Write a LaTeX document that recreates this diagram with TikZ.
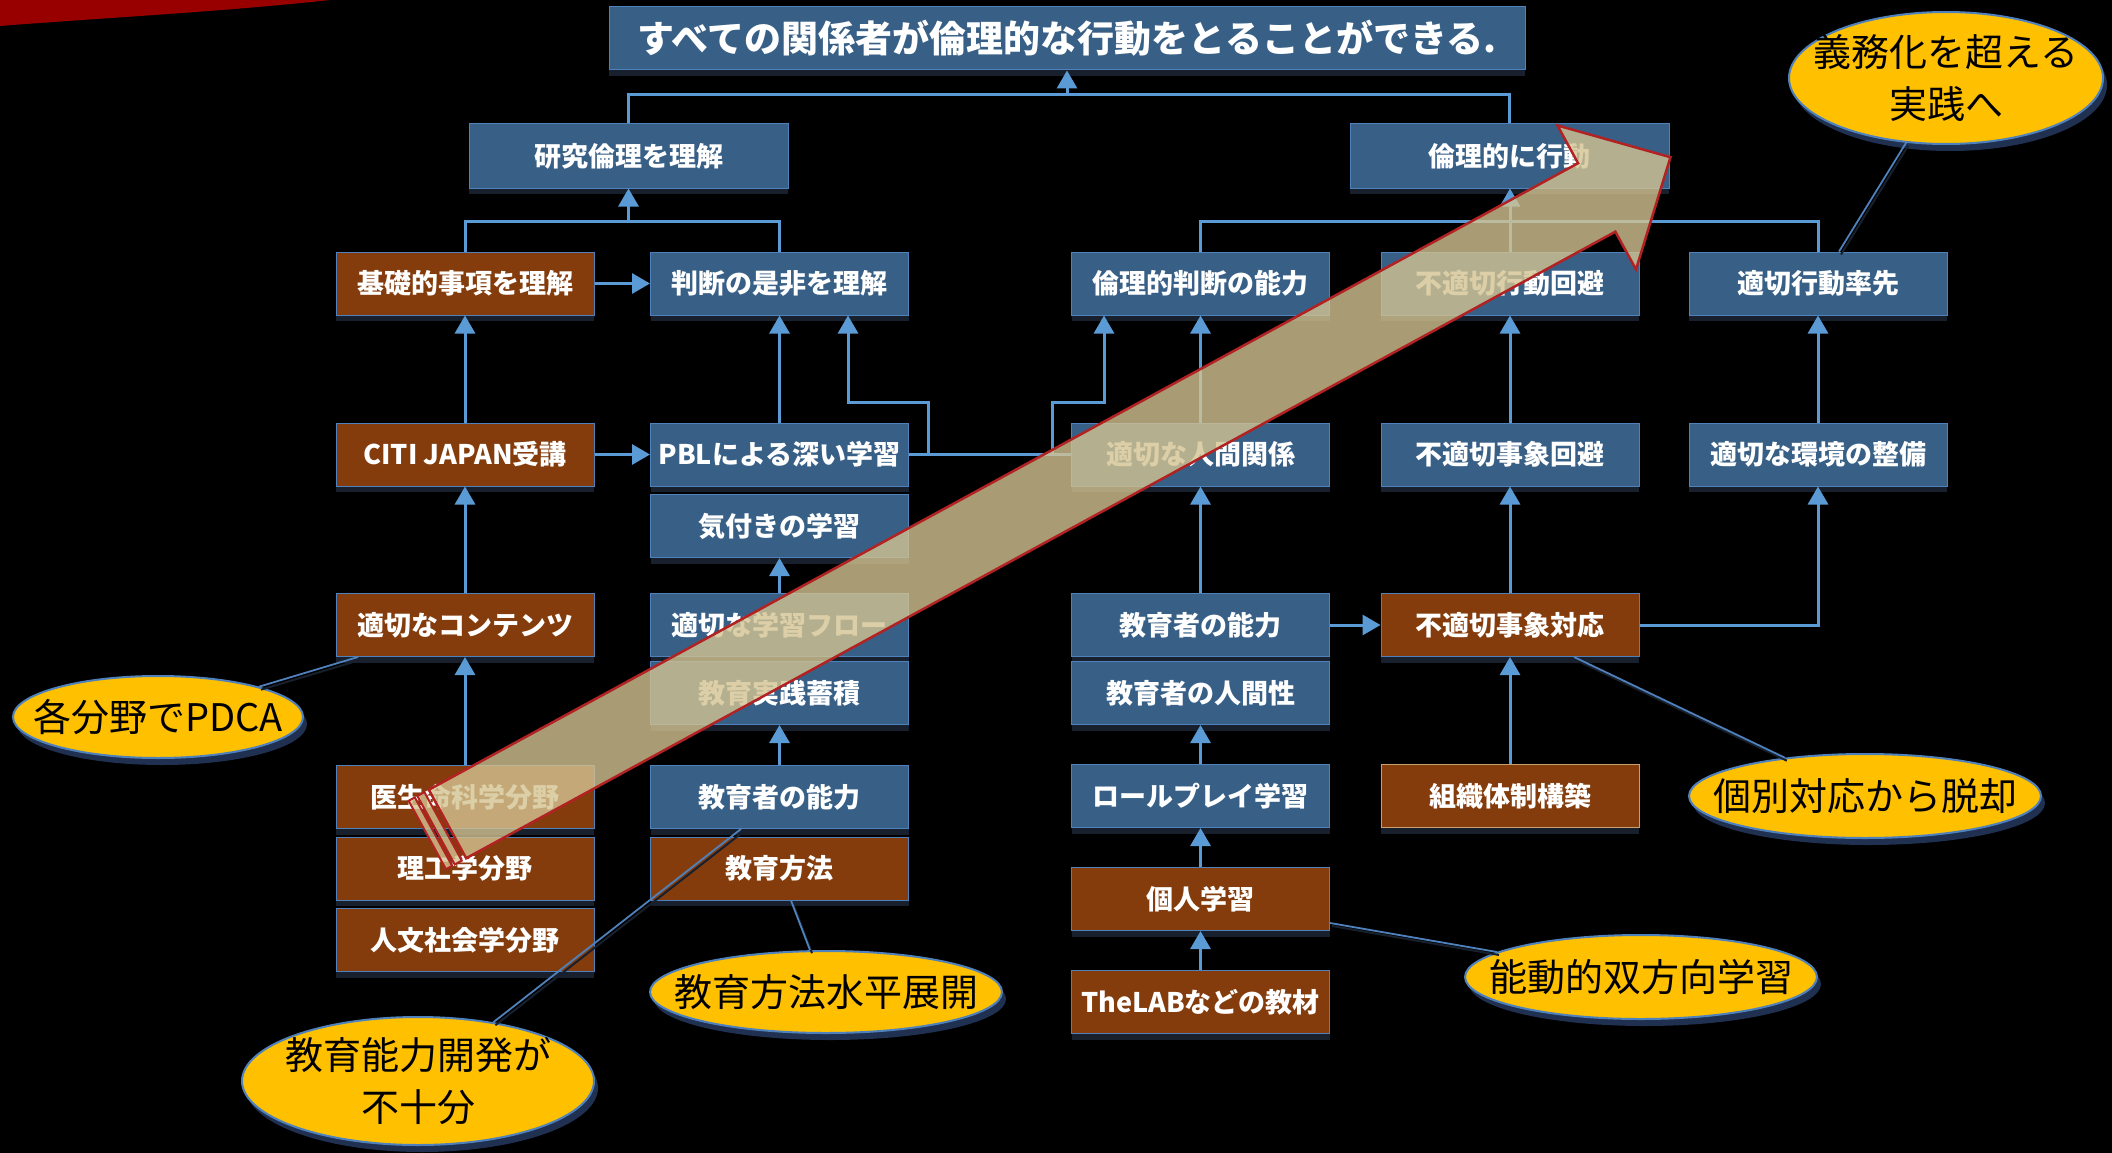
\documentclass[tikz,border=0pt]{standalone}
\usepackage{fontspec}
\newfontfamily\jp{Noto Sans CJK JP}
\usetikzlibrary{arrows.meta,shapes.geometric,shadows}
\definecolor{boxblue}{HTML}{386087}
\definecolor{boxbrown}{HTML}{843C0C}
\definecolor{lineblue}{HTML}{5B9BD5}
\definecolor{edgeblue}{HTML}{4F81BD}
\definecolor{callout}{HTML}{FFC000}
\definecolor{shadowc}{HTML}{17202C}
\definecolor{coshadow}{HTML}{1F3050}
\definecolor{tanedge}{RGB}{200,160,110}
\definecolor{arrfill}{RGB}{212,196,146}
\definecolor{arrline}{HTML}{B22222}
\definecolor{swoosh}{HTML}{980000}
\begin{document}
\begin{tikzpicture}[x=1pt,y=-1pt,
  bx/.style={rectangle, minimum width=258pt, minimum height=63pt, inner sep=0pt, text=white,
    font=\jp\bfseries\fontsize{27}{32}\selectfont, draw=edgeblue, line width=1pt,
    drop shadow={shadow xshift=0pt, shadow yshift=-6pt, fill=shadowc, opacity=1}},
  bb/.style={bx, fill=boxblue},
  br/.style={bx, fill=boxbrown},
  conn/.style={draw=lineblue, line width=3pt},
  arr/.style={conn, -{Triangle[width=20pt,length=18pt]}},
  co/.style={ellipse, fill=callout, draw=edgeblue, line width=2pt, inner sep=0pt,
    drop shadow={shadow xshift=4pt, shadow yshift=-7pt, fill=coshadow, opacity=1}},
  cot/.style={inner sep=0pt, text=black, font=\jp\fontsize{38}{52}\selectfont, align=center},
  cl/.style={draw=edgeblue, line width=1.8pt},
  cls/.style={draw=shadowc, line width=2pt},
  bigarr/.style={fill=arrfill, fill opacity=0.8, draw=arrline, line width=2.5pt, line join=miter}
]
\fill[black] (0,0) rectangle (2112,1153);
\useasboundingbox (0,0) rectangle (2112,1153);
\fill[swoosh] (0,0) -- (330,0) .. controls (220,12) and (100,18) .. (0,26) -- cycle;

% boxes
\node[bb, minimum width=916pt, minimum height=63pt, font=\jp\bfseries\fontsize{37}{44}\selectfont] (title) at (1067,38.5) {すべての関係者が倫理的な行動をとることができる.};
\node[bb, minimum width=319pt, minimum height=64pt] (kenri) at (628.5,156) {研究倫理を理解};
\node[bb, minimum width=319pt, minimum height=64pt] (rinkodo) at (1509.5,156) {倫理的に行動};
\node[br] (kiso) at (465,283.5) {基礎的事項を理解};
\node[bb] (handan) at (779.5,283.5) {判断の是非を理解};
\node[bb] (rinhan) at (1200.5,283.5) {倫理的判断の能力};
\node[bb] (futekikodo) at (1510,283.5) {不適切行動回避};
\node[bb] (tekikodo) at (1818,283.5) {適切行動率先};
\node[br] (citi) at (465,454.5) {CITI JAPAN受講};
\node[bb] (pbl) at (779.5,454.5) {PBLによる深い学習};
\node[bb] (ningen) at (1200.5,454.5) {適切な人間関係};
\node[bb] (futekijisho) at (1510,454.5) {不適切事象回避};
\node[bb] (kankyo) at (1818,454.5) {適切な環境の整備};
\node[bb] (kizuki) at (779.5,526) {気付きの学習};
\node[br] (contents) at (465,625) {適切なコンテンツ};
\node[bb] (flow) at (779.5,625) {適切な学習フロー};
\node[bb] (nouryoku1) at (1200.5,625) {教育者の能力};
\node[br] (taio) at (1510,625) {不適切事象対応};
\node[bb] (jissen) at (779.5,693) {教育実践蓄積};
\node[bb] (ningensei) at (1200.5,693) {教育者の人間性};
\node[br] (ise) at (465,797) {医生命科学分野};
\node[bb] (nouryoku2) at (779.5,797) {教育者の能力};
\node[bb] (role) at (1200.5,796) {ロールプレイ学習};
\node[br, draw=tanedge] (soshiki) at (1510,796) {組織体制構築};
\node[br] (riko) at (465,868.5) {理工学分野};
\node[br] (hoho) at (779.5,868.5) {教育方法};
\node[br] (jinbun) at (465,940) {人文社会学分野};
\node[br] (kojin) at (1200.5,899) {個人学習};
\node[br] (thelab) at (1200.5,1002) {TheLABなどの教材};

% connectors
\coordinate (j0) at (1067,95);
\draw[conn] (kenri.north) |- (j0) -| (rinkodo.north);
\draw[arr] (j0) -- (title.south);
\coordinate (j1) at (628.5,221);
\draw[conn] (kiso.north) |- (j1) -| (handan.north);
\draw[arr] (j1) -- (kenri.south);
\coordinate (j2) at (1510,221);
\draw[conn] (rinhan.north) |- (j2) -| (tekikodo.north);
\draw[arr] (futekikodo.north) -- (rinkodo.south -| futekikodo.north);
\draw[arr] (kiso.east) -- (handan.west);
\draw[arr] (citi.north) -- (kiso.south);
\draw[arr] (citi.east) -- (pbl.west);
\draw[arr] (pbl.north) -- (handan.south);
\coordinate (h1) at (848,402);
\coordinate (h2) at (928,402);
\draw[arr] (ningen.west) -| (h2) -- (h1) -- (h1 |- handan.south);
\coordinate (h3) at (1052,402);
\coordinate (h4) at (1104,402);
\draw[arr] (pbl.east) -| (h3) -- (h4) -- (h4 |- rinhan.south);
\draw[arr] (ningen.north) -- (rinhan.south);
\draw[arr] (futekijisho.north) -- (futekikodo.south);
\draw[arr] (kankyo.north) -- (tekikodo.south);
\draw[arr] (contents.north) -- (citi.south);
\draw[arr] (flow.north) -- (kizuki.south);
\draw[arr] (ise.north) -- (contents.south);
\draw[arr] (nouryoku2.north) -- (jissen.south);
\draw[arr] (nouryoku1.north) -- (ningen.south);
\draw[arr] (nouryoku1.east) -- (taio.west);
\draw[arr] (taio.north) -- (futekijisho.south);
\draw[arr] (taio.east) -| (kankyo.south);
\draw[arr] (soshiki.north) -- (taio.south);
\draw[arr] (role.north) -- (ningensei.south);
\draw[arr] (kojin.north) -- (role.south);
\draw[arr] (thelab.north) -- (kojin.south);

% callouts
\node[co, minimum width=314pt, minimum height=132pt] (gimu) at (1946,78) {};
\node[cot] (gimut) at (gimu) {義務化を超える\\実践へ};
\node[co, minimum width=290pt, minimum height=82pt] (pdca) at (158,717) {};
\node[cot] (pdcat) at (pdca) {各分野でPDCA};
\node[co, minimum width=352pt, minimum height=128pt] (kaihatsu) at (418,1081) {};
\node[cot] (kaihatsut) at (kaihatsu) {教育能力開発が\\不十分};
\node[co, minimum width=352pt, minimum height=82pt] (tenkai) at (826,992) {};
\node[cot] (tenkait) at (tenkai) {教育方法水平展開};
\node[co, minimum width=352pt, minimum height=84pt] (kobetsu) at (1865,796) {};
\node[cot] (kobetsut) at (kobetsu) {個別対応から脱却};
\node[co, minimum width=352pt, minimum height=84pt] (nodo) at (1641,977) {};
\node[cot] (nodot) at (nodo) {能動的双方向学習};

\begin{scope}[transform canvas={xshift=2pt,yshift=-3pt}]
\draw[cls] (gimu) -- (tekikodo.north -| 1839,0);
\draw[cls] (pdca) -- (contents.south -| 358,0);
\draw[cls] (kaihatsu) -- (nouryoku2.south -| 741,0);
\draw[cls] (tenkai) -- (hoho.south -| 791,0);
\draw[cls] (kobetsu) -- (taio.south -| 1574,0);
\draw[cls] (nodo) -- (kojin.east |- 0,923);
\end{scope}
\draw[cl] (gimu) -- (tekikodo.north -| 1839,0);
\draw[cl] (pdca) -- (contents.south -| 358,0);
\draw[cl] (kaihatsu) -- (nouryoku2.south -| 741,0);
\draw[cl] (tenkai) -- (hoho.south -| 791,0);
\draw[cl] (kobetsu) -- (taio.south -| 1574,0);
\draw[cl] (nodo) -- (kojin.east |- 0,923);

% big arrow
\begin{scope}[shift={(447.5,824)}, rotate=28.6]
  \filldraw[bigarr] (0,-39) -- (1309,-39) -- (1309,-82) -- (1393,0) -- (1309,82) -- (1309,39) -- (0,39) -- cycle;
  \filldraw[bigarr, line width=2pt] (-13,-39) rectangle (-5,39);
  \filldraw[bigarr, line width=2pt] (-23,-39) rectangle (-16,39);
\end{scope}
\end{tikzpicture}
\end{document}
